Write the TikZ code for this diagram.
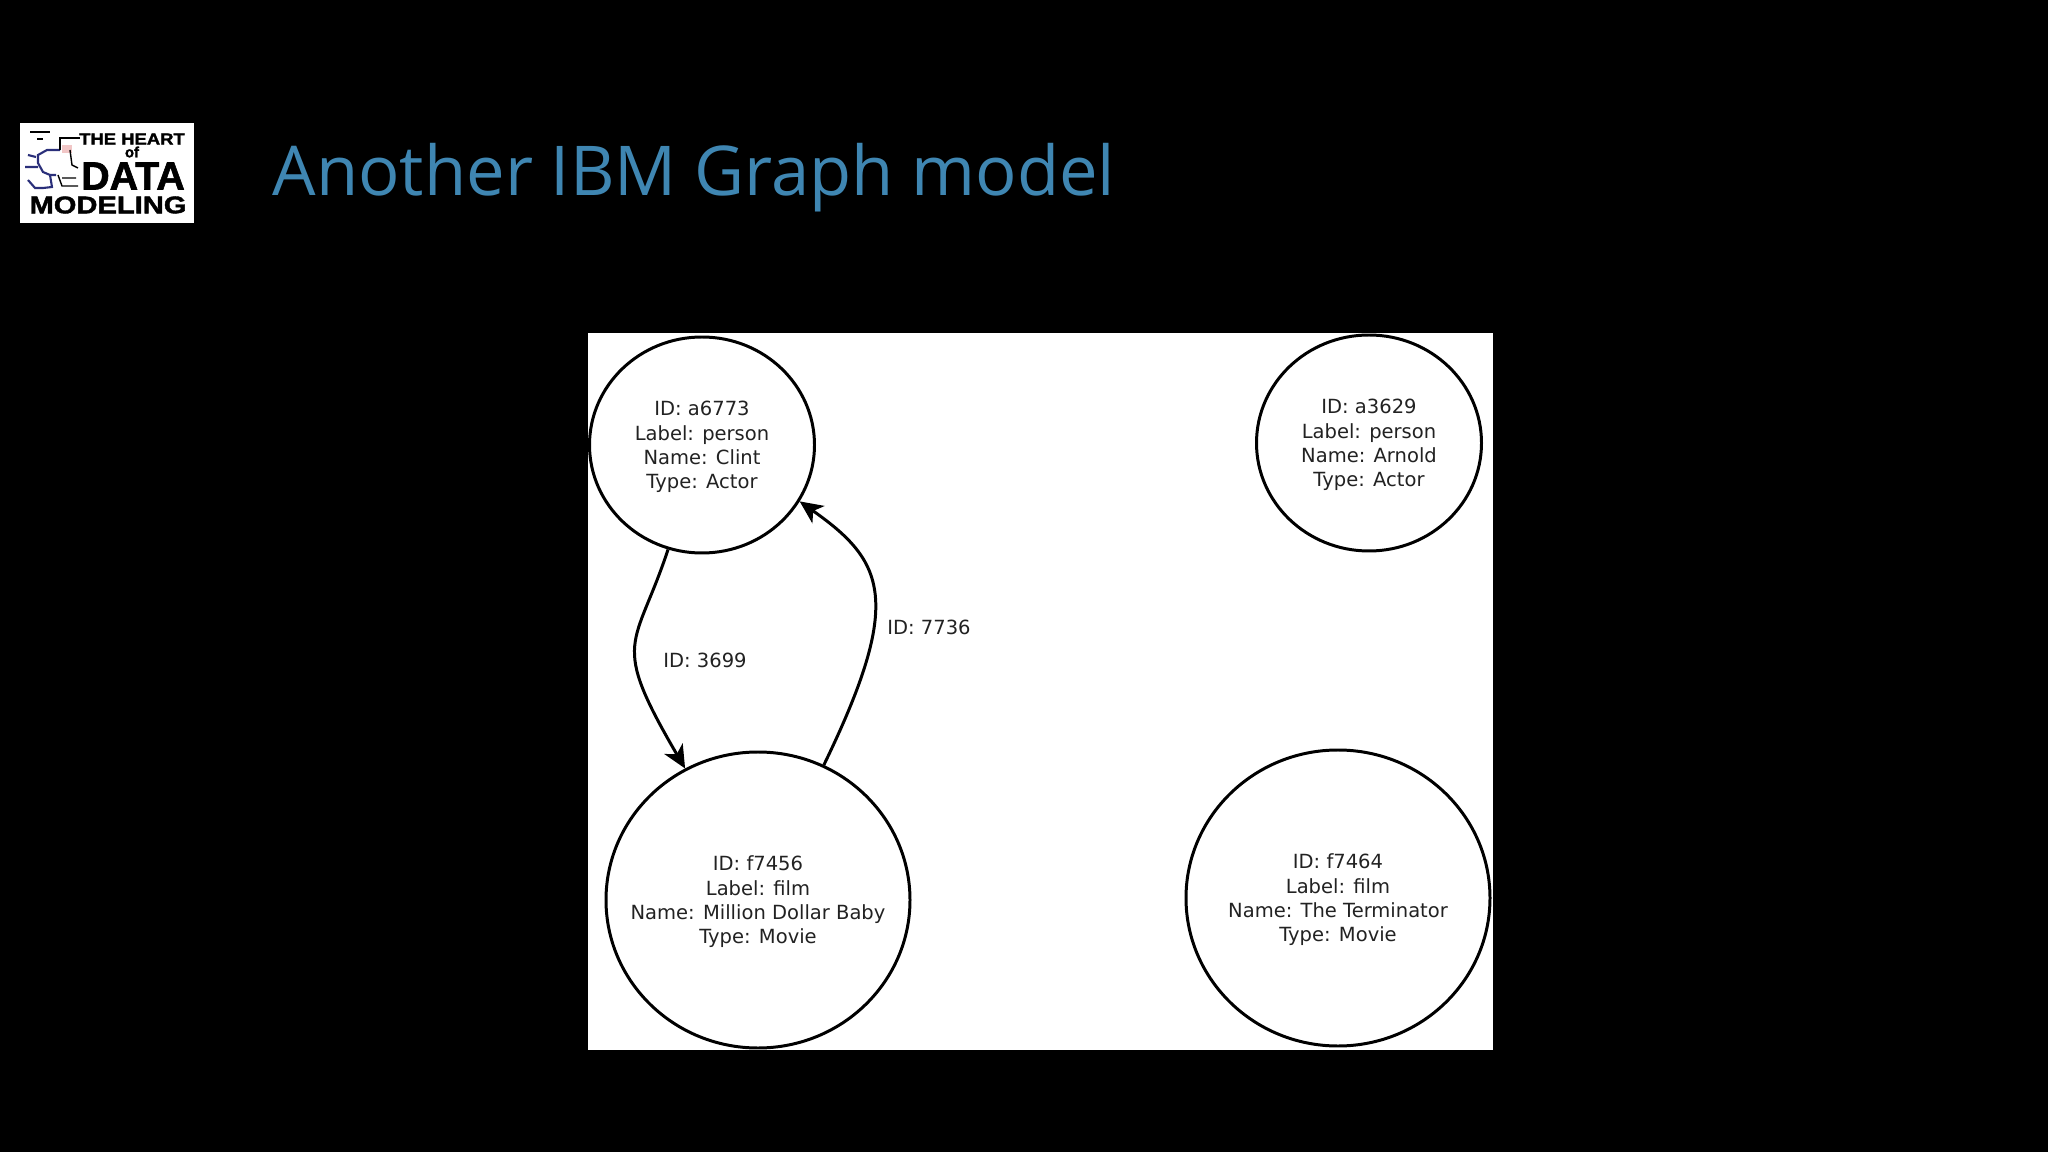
\documentclass[tikz,border=0pt]{standalone}
\usepackage{fontspec}
\setmainfont{DejaVu Sans}
\newfontfamily\titlefont{Open Sans}
\newfontfamily\logofont[BoldFeatures={FakeBold=1.6}]{Liberation Sans}
\usetikzlibrary{arrows.meta,shapes.geometric}
\definecolor{titleblue}{HTML}{3F86B2}
\definecolor{inkgrey}{HTML}{222222}
\definecolor{logoblue}{HTML}{2A2F7A}
\definecolor{logored}{HTML}{E8A0A0}
\newcommand{\unit}{*0.01cm}
\newcommand{\toppad}{\rule{0pt}{5.3pt}}
\tikzset{
  vertex/.style={draw=black,line width=0.85pt,ellipse,inner sep=0pt,align=center,text=inkgrey,
    font=\fontsize{5.55}{6.95}\selectfont},
  small/.style={vertex,minimum width=225\unit,minimum height=216\unit},
  large/.style={vertex,inner xsep=-7pt,minimum width=304\unit,minimum height=296\unit},
  edgeline/.style={draw=black,line width=0.85pt,-{Stealth[length=6.5pt,width=6pt,inset=1.8pt]}},
  edgelabel/.style={text=inkgrey,font=\fontsize{5.55}{6.95}\selectfont},
  logotext/.style={text=black,inner sep=0pt},
  scribble/.style={line width=0.6pt,draw=logoblue},
  plainline/.style={line width=0.4pt,draw=black}
}
\begin{document}
\begin{tikzpicture}[x=0.01cm,y=-0.01cm]
\useasboundingbox (0,0) rectangle (2048,1152);
\fill [black] (0,0) rectangle (2048,1152);
%
\node (title) at (272,196) [anchor=base west,inner sep=0pt,text=titleblue,
  font=\titlefont\fontsize{19.55}{24}\selectfont] {Another IBM Graph model};
%
\fill [white] (20,123) rectangle (194,223);
\fill [logored!60] (62,145) rectangle (72,153);
\draw [scribble] (60,150) -- (47,150) -- (38,155) -- (38,163) -- (43,172) -- (50,175) -- (52,187) -- (43,188) -- (35,188) -- (28,180);
\draw [scribble] (28,155) -- (36,157) (25,167) -- (38,167) (50,175) -- (56,175);
\draw [plainline] (30,132) -- (50,132) (37,139) -- (43,139) (60,150) -- (60,138) -- (80,138);
\draw [plainline] (70,150) -- (72,165) -- (78,168) (58,175) -- (62,186) -- (78,186) (62,178) -- (76,178);
\node (logoheart) at (132,139) [logotext,xscale=1.14,font=\logofont\bfseries\fontsize{4.6}{5}\selectfont] {THE HEART};
\node (logoof) at (132,152) [logotext,font=\logofont\bfseries\fontsize{4.2}{5}\selectfont] {of};
\node (logodata) at (133,176) [logotext,font=\logofont\bfseries\fontsize{11.2}{12}\selectfont] {DATA};
\node (logomodel) at (108,205) [logotext,xscale=1.2,font=\logofont\bfseries\fontsize{6.9}{7}\selectfont] {MODELING};
%
\fill [white] (588,333) rectangle (1493,1050);
%
\node (a6773) at (702,445) [small] {\toppad ID: a6773\\Label: person\\Name: Clint\\Type: Actor};
\node (a3629) at (1369,443) [small] {\toppad ID: a3629\\Label: person\\Name: Arnold\\Type: Actor};
\node (f7456) at (758,900) [large] {\toppad ID: f7456\\Label: film\\Name: Million Dollar Baby\\Type: Movie};
\node (f7464) at (1338,898) [large] {\toppad ID: f7464\\Label: film\\Name: The Terminator\\Type: Movie};
%
\draw [edgeline] (a6773.252) .. controls +(-33,100) and +(-76,-130) .. (f7456.119);
\draw [edgeline] (f7456.64) .. controls +(80,-165) and +(85,60) .. (a6773.330);
%
\node (label3699) at (705,660) [edgelabel] {ID: 3699};
\node (label7736) at (929,627) [edgelabel] {ID: 7736};
\end{tikzpicture}
\end{document}
